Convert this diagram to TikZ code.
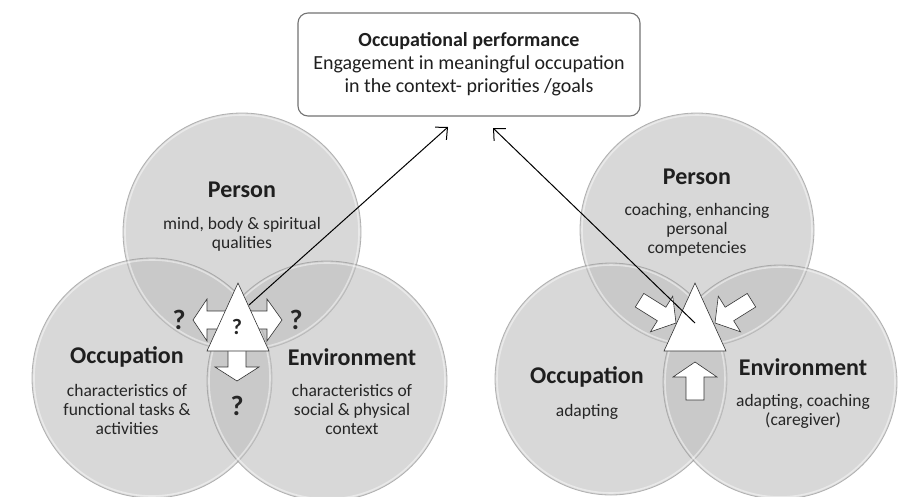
\documentclass[tikz,border=0pt]{standalone}
\usepackage{fontspec}
\setmainfont{Carlito}
\usetikzlibrary{arrows.meta}
\begin{document}
\begin{tikzpicture}[x=1pt,y=-1pt,
  venn/.style={fill=black!25, fill opacity=0.6, draw=black!40, draw opacity=0.7, line width=0.8pt},
  rim/.style={draw=white, draw opacity=0.45, line width=1.6pt},
  ttl/.style={font=\fontsize{24}{26}\selectfont\bfseries, text=black!88, inner sep=0pt},
  body/.style={font=\fontsize{17.5}{19}\selectfont, text=black!85, align=center, inner sep=0pt},
  qm/.style={font=\fontsize{28}{30}\selectfont\bfseries, text=black!85, inner sep=0pt},
  qmin/.style={font=\fontsize{22}{24}\selectfont\bfseries, text=black!85, inner sep=0pt},
  blk/.style={fill=white, draw=black!80, line width=0.6pt, line join=miter},
  perfbox/.style={draw=black!55, line width=1.1pt, fill=white, rounded corners=10pt,
     minimum width=342pt, minimum height=103pt, align=center, inner sep=0pt,
     font=\fontsize{20}{23}\selectfont, text=black!88},
  link/.style={draw=black, line width=1pt, -{Straight Barb[length=9pt,width=17pt,line width=1pt]}}
]
\useasboundingbox (0,0) rectangle (901,496);
\fill[white] (0,0) rectangle (901,496);

% ---------- left Venn ----------
\path[venn] (242,232) circle[radius=119pt];
\path[venn] (152,378) circle[radius=120pt];
\path[venn] (327,381) circle[radius=120pt];
\path[rim] (242,232) circle[radius=117pt];
\path[rim] (152,378) circle[radius=118pt];
\path[rim] (327,381) circle[radius=118pt];

\node[ttl] (lper) at (242,190) {Person};
\node[body] (lperb) at (242,234) {mind, body \& spiritual\\qualities};
\node[ttl] (locc) at (127,357) {Occupation};
\node[body] (loccb) at (127,409) {characteristics of\\functional tasks \&\\activities};
\node[ttl] (lenv) at (352,357) {Environment};
\node[body] (lenvb) at (352,409) {characteristics of\\social \& physical\\context};

% double arrow and down arrow (behind triangle)
\path[blk] (193,320) -- (207,299) -- (207,311) -- (267,311) -- (267,299) -- (282,320)
   -- (267,341) -- (267,329) -- (207,329) -- (207,341) -- cycle;
\path[blk] (228,345) -- (246,345) -- (246,367) -- (259,367) -- (237,381) -- (215,367)
   -- (228,367) -- cycle;
% triangle
\path[blk] (238,283) -- (269,351) -- (207,351) -- cycle;
\node[qmin] (lqc) at (237,327) {?};
\node[qm] (lql) at (179,320) {?};
\node[qm] (lqr) at (296,320) {?};
\node[qm] (lqb) at (237,406) {?};

% ---------- right Venn ----------
\path[venn] (697,230) circle[radius=117pt];
\path[venn] (611,379) circle[radius=116pt];
\path[venn] (780,382) circle[radius=117pt];
\path[rim] (697,230) circle[radius=115pt];
\path[rim] (611,379) circle[radius=114pt];
\path[rim] (780,382) circle[radius=115pt];

\node[ttl] (rper) at (697,177) {Person};
\node[body] (rperb) at (697,230) {coaching, enhancing\\personal\\competencies};
\node[ttl] (rocc) at (587,377) {Occupation};
\node[body] (roccb) at (587,412) {adapting};
\node[ttl] (renv) at (803,367) {Environment};
\node[body] (renvb) at (803,411) {adapting, coaching\\(caregiver)};

% diagonal arrows pointing to triangle
\begin{scope}[shift={(676,323)}, rotate=-32]
  \path[blk] (0,0) -- (-17,21) -- (-17,8) -- (-43,8) -- (-43,-8) -- (-17,-8) -- (-17,-21) -- cycle;
\end{scope}
\begin{scope}[shift={(715,323)}, rotate=212]
  \path[blk] (0,0) -- (-17,21) -- (-17,8) -- (-43,8) -- (-43,-8) -- (-17,-8) -- (-17,-21) -- cycle;
\end{scope}
% up arrow
\path[blk] (695,362) -- (717,377) -- (704,377) -- (704,400) -- (686,400) -- (686,377)
   -- (673,377) -- cycle;
% triangle
\path[blk] (695,283) -- (726,351) -- (664,351) -- cycle;

% ---------- top box ----------
\node[perfbox] (perf) at (469,64.5) {\textbf{Occupational performance}\\Engagement in meaningful occupation\\in the context- priorities /goals};

% ---------- connectors ----------
\coordinate (lsrc) at (249,305);
\coordinate (ltip) at (448,127);
\coordinate (rsrc) at (695,323);
\coordinate (rtip) at (493,128);
\draw[link] (lsrc) -- (ltip);
\draw[link] (rsrc) -- (rtip);
\end{tikzpicture}
\end{document}
